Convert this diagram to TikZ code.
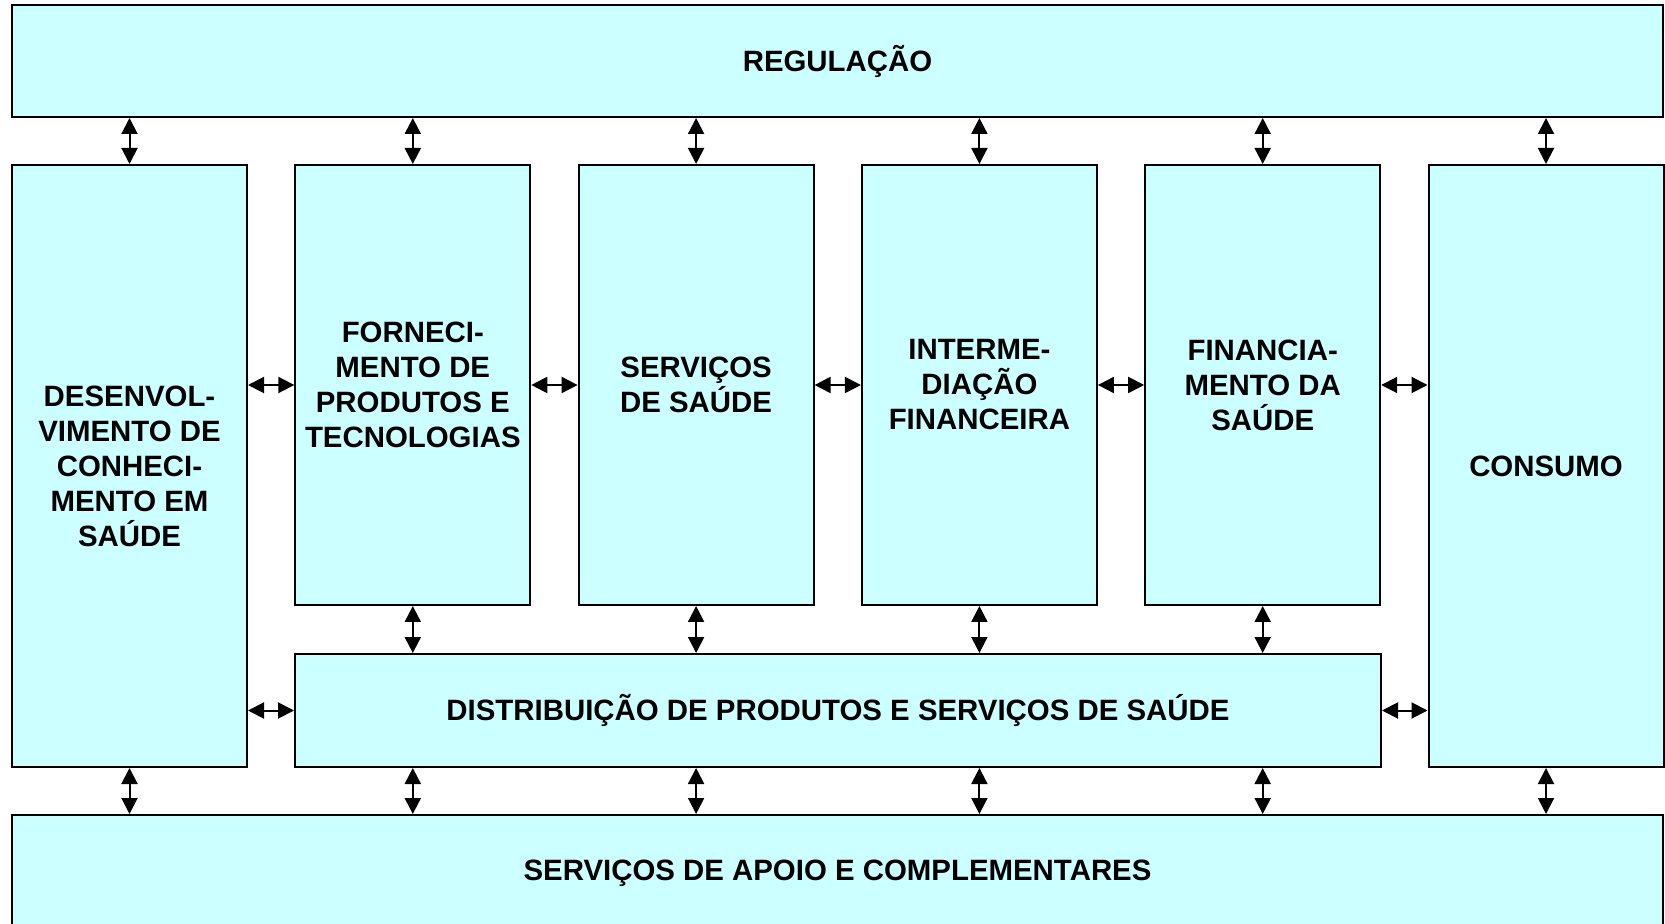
\documentclass[tikz,border=0pt]{standalone}
\usepackage{fontspec}
\setmainfont{Liberation Sans}
\usetikzlibrary{arrows.meta}

\definecolor{boxcyan}{RGB}{204,255,255}

\tikzset{
  block/.style={draw, rectangle, fill=boxcyan, line width=1pt, align=center,
    font=\fontsize{14.7pt}{17.5pt}\selectfont\bfseries, inner sep=0pt},
  colbox/.style={block, minimum width=117.5pt},
  link/.style={line width=1pt, {Triangle[length=8pt,width=8pt]}-{Triangle[length=8pt,width=8pt]}}
}

\begin{document}
\begin{tikzpicture}
        \useasboundingbox (0pt,0pt) rectangle (832.5pt,-462pt);

        \node[block, minimum width=825.5pt, minimum height=56pt](REG) at (418.75pt,-30.5pt){REGULAÇÃO};

        \node[colbox, minimum height=301pt](DES) at (64.75pt,-233pt){DESENVOL-\\VIMENTO DE\\CONHECI-\\MENTO EM\\SAÚDE};
        \node[colbox, minimum height=220pt](FORN) at (206.4pt,-192.5pt){FORNECI-\\MENTO DE\\PRODUTOS E\\TECNOLOGIAS};
        \node[colbox, minimum height=220pt, right of=FORN, node distance=141.65pt](SERV){SERVIÇOS\\DE SAÚDE};
        \node[colbox, minimum height=220pt, right of=SERV, node distance=141.65pt](INTER){INTERME-\\DIAÇÃO\\FINANCEIRA};
        \node[colbox, minimum height=220pt, right of=INTER, node distance=141.65pt](FIN){FINANCIA-\\MENTO DA\\SAÚDE};
        \node[colbox, minimum height=301pt](CONS) at (773pt,-233pt){CONSUMO};

        \node[block, minimum width=543pt, minimum height=56.5pt](DIST) at (419pt,-355.25pt){DISTRIBUIÇÃO DE PRODUTOS E SERVIÇOS DE SAÚDE};

        \node[block, minimum width=825.5pt, minimum height=58pt](APOIO) at (418.75pt,-436.5pt){SERVIÇOS DE APOIO E COMPLEMENTARES};

        % regulacao -- colunas
        \foreach \c in {DES,FORN,SERV,INTER,FIN,CONS}
          \draw[link] (\c.north |- REG.south) -- (\c.north);

        % colunas lado a lado
        \draw[link] (DES.east |- FORN.west) -- (FORN.west);
        \draw[link] (FORN.east) -- (SERV.west);
        \draw[link] (SERV.east) -- (INTER.west);
        \draw[link] (INTER.east) -- (FIN.west);
        \draw[link] (FIN.east) -- (CONS.west |- FIN.east);

        % colunas -- distribuicao
        \foreach \c in {FORN,SERV,INTER,FIN}
          \draw[link] (\c.south) -- (\c.south |- DIST.north);

        \draw[link] (DES.east |- DIST.west) -- (DIST.west);
        \draw[link] (DIST.east) -- (CONS.west |- DIST.east);

        % apoio
        \draw[link] (DES.south) -- (DES.south |- APOIO.north);
        \draw[link] (CONS.south) -- (CONS.south |- APOIO.north);
        \foreach \c in {FORN,SERV,INTER,FIN}
          \draw[link] (\c.south |- DIST.south) -- (\c.south |- APOIO.north);
\end{tikzpicture}
\end{document}
